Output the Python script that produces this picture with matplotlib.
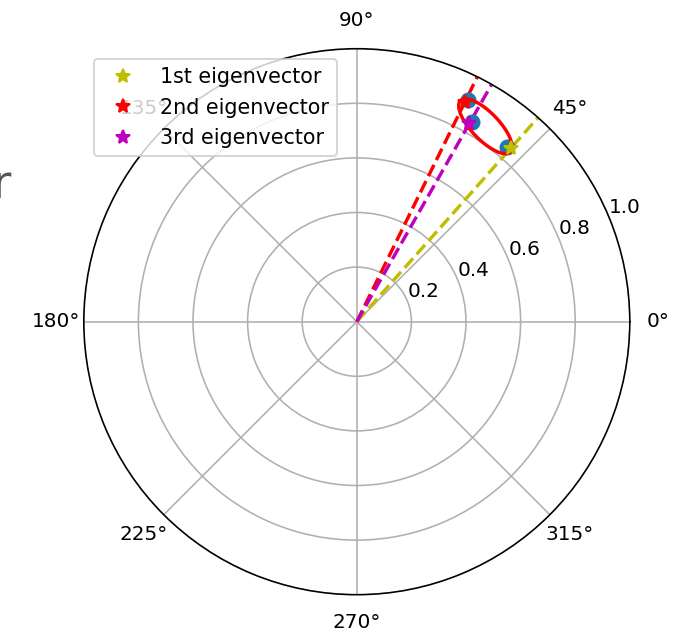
import numpy as np
import matplotlib
matplotlib.use("Agg")
import matplotlib.pyplot as plt

# Estimated eigenvector directions (degrees) and magnitudes
labels = ["1st eigenvector", "2nd eigenvector", "3rd eigenvector"]
colors = ["y", "r", "m"]
est_theta_deg = [48.4, 63.8, 60.4]
est_r = [0.849, 0.898, 0.835]

# Reference eigenvector positions (blue circles)
ref_theta_deg = [49.4, 63.3, 60.1]
ref_r = [0.844, 0.909, 0.845]

# Uncertainty ellipse (Cartesian centre, semi-axes, orientation)
ell_center = (0.471, 0.716)
ell_axes = (0.131, 0.050)
ell_angle_deg = -46.0

DPI = 144
fig = plt.figure(figsize=(683 / DPI, 633 / DPI), dpi=DPI)
R = 273.0
cx, cy = 356.8, 321.7
ax = fig.add_axes([(cx - R) / 683, (633 - cy - R) / 633, 2 * R / 683, 2 * R / 633],
                  projection="polar")

# Reference points underneath the estimated ones
ax.plot(np.deg2rad(ref_theta_deg), ref_r, "o", color="tab:blue",
        markersize=7, linestyle="none", zorder=3)

# Ellipse converted from Cartesian to polar coordinates
t = np.linspace(0, 2 * np.pi, 200)
a, b = ell_axes
phi = np.deg2rad(ell_angle_deg)
ex = ell_center[0] + a * np.cos(t) * np.cos(phi) - b * np.sin(t) * np.sin(phi)
ey = ell_center[1] + a * np.cos(t) * np.sin(phi) + b * np.sin(t) * np.cos(phi)
ax.plot(np.arctan2(ey, ex), np.hypot(ex, ey), color="red", linewidth=1.7, zorder=4)

for th, r, c, lab in zip(est_theta_deg, est_r, colors, labels):
    th_rad = np.deg2rad(th)
    ax.plot([0, th_rad], [0, 1.0], color=c, linestyle="--", linewidth=1.7, zorder=2)
    ax.plot([th_rad], [r], "*", color=c, markersize=7, linestyle="none",
            label=lab, zorder=5)

ax.set_rmax(1.0)
ax.set_rticks([0.2, 0.4, 0.6, 0.8, 1.0])
ax.tick_params(labelsize=10)
ax.grid(True, color="#b0b0b0", linewidth=0.8)
ax.legend(loc="upper left", fontsize=10.3)

fig.text(12 / 683, (633 - 198) / 633, "Eigenvector", ha="right", va="baseline",
         fontsize=23, color="#555555")

fig.savefig("out.png", dpi=DPI)
